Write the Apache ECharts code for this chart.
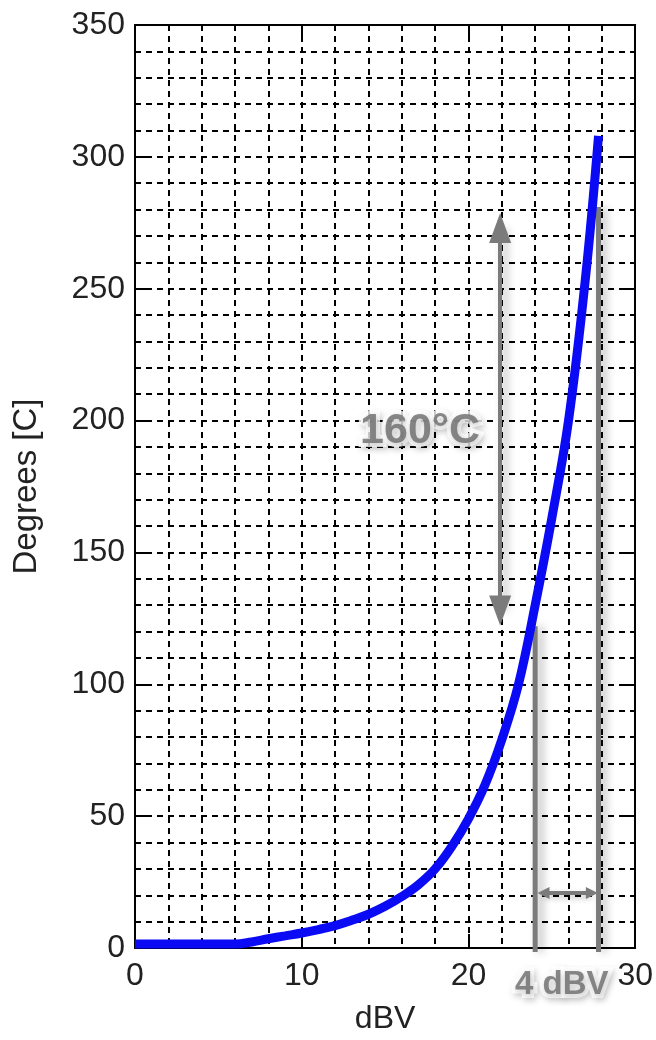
<!DOCTYPE html>
<html>
<head>
<meta charset="utf-8">
<script src="https://cdn.jsdelivr.net/npm/echarts@6/dist/echarts.min.js"></script>
<style>
html,body{margin:0;padding:0;background:#fff;}
#chart{width:656px;height:1040px;}
</style>
</head>
<body>
<div id="chart"></div>
<script>
// ---- data ----
const dbv = [0, 2, 4, 6, 7, 8, 9, 10, 11, 12, 13, 14, 15, 16, 17, 18, 19, 20, 21, 22, 23, 24, 25, 26, 27, 27.8];
const degrees = [1.5, 1.5, 1.5, 1.5, 2.3, 3.5, 4.6, 5.7, 7, 8.5, 10.5, 12.8, 15.8, 19.5, 24, 30, 38.5, 49, 62, 79, 100, 130, 163, 200, 253, 308];
const xTicks = [0, 10, 20, 30];
const yTicks = [0, 50, 100, 150, 200, 250, 300, 350];
// annotation values (data units)
const rightLineX = 27.8, rightLineTop = 281;
const leftLineX = 24.0, leftLineTop = 122;
const vArrowX = 21.9, vArrowTop = 273, vArrowBottom = 128;
const hArrowY = 20.9, hArrowLeft = 24.5, hArrowRight = 27.4;
const tempLabel = '160°C', tempLabelPos = [17.1, 196];
const dbvLabel = '4 dBV', dbvLabelPos = [25.6, -14];

const curve = dbv.map((x, i) => [x, degrees[i]]);
const gray = '#7b7b7b';
const font = '"Liberation Sans", Arial, sans-serif';

const chart = echarts.init(document.getElementById('chart'), null, {renderer: 'canvas'});
const baseX = {type: 'value', min: xTicks[0], max: xTicks[xTicks.length - 1], interval: 10};
const baseY = {type: 'value', min: yTicks[0], max: yTicks[yTicks.length - 1], interval: 50};
const axisLine = {show: true, onZero: false, lineStyle: {color: '#000', width: 2}};
const tick = {show: true, inside: true, length: 14, lineStyle: {color: '#000', width: 2}};
const gridDash = {show: true, lineStyle: {color: '#000', width: 2, type: [6, 5]}};

chart.setOption({
  animation: false,
  backgroundColor: '#fff',
  grid: {left: 135, right: 17, top: 25, bottom: 92, containLabel: false},
  xAxis: [
    Object.assign({}, baseX, {
      position: 'bottom', axisLine, axisTick: tick, splitLine: {show: false},
      axisLabel: {color: '#222', fontSize: 32, fontFamily: font, margin: 12},
      name: 'dBV', nameLocation: 'middle', nameGap: 55,
      nameTextStyle: {color: '#222', fontSize: 32, fontFamily: font}
    }),
    Object.assign({}, baseX, {
      position: 'top', axisLine, axisTick: tick, axisLabel: {show: false}, splitLine: {show: false}
    }),
    Object.assign({}, baseX, {
      position: 'bottom', interval: 2, axisLine: {show: false}, axisTick: {show: false},
      axisLabel: {show: false}, splitLine: gridDash
    })
  ],
  yAxis: [
    Object.assign({}, baseY, {
      position: 'left', axisLine, axisTick: tick, splitLine: {show: false},
      axisLabel: {color: '#222', fontSize: 32, fontFamily: font, margin: 10},
      name: 'Degrees [C]', nameLocation: 'middle', nameGap: 92, nameRotate: 90,
      nameTextStyle: {color: '#222', fontSize: 33, fontFamily: font}
    }),
    Object.assign({}, baseY, {
      position: 'right', axisLine, axisTick: tick, axisLabel: {show: false}, splitLine: {show: false}
    }),
    Object.assign({}, baseY, {
      position: 'left', interval: 10, axisLine: {show: false}, axisTick: {show: false},
      axisLabel: {show: false}, splitLine: gridDash
    })
  ],
  series: [
    {
      type: 'line', name: 'curve', data: curve, showSymbol: false, smooth: 0.4,
      lineStyle: {color: '#0a0af5', width: 9}, z: 5
    },
    {
      type: 'line', name: 'rightLine', data: [[rightLineX, rightLineTop], [rightLineX, -1.5]],
      showSymbol: false, clip: false,
      lineStyle: {color: gray, width: 5, shadowColor: 'rgba(0,0,0,0.3)', shadowBlur: 8, shadowOffsetX: 5}, z: 4
    },
    {
      type: 'line', name: 'leftLine', data: [[leftLineX, leftLineTop], [leftLineX, -1.5]],
      showSymbol: false, clip: false,
      lineStyle: {color: gray, width: 5, shadowColor: 'rgba(0,0,0,0.3)', shadowBlur: 8, shadowOffsetX: 5}, z: 4,
      markLine: {
        silent: true, symbol: ['triangle', 'triangle'], symbolSize: [22, 30],
        label: {show: false},
        lineStyle: {color: gray, width: 4, type: 'solid', shadowColor: 'rgba(0,0,0,0.3)', shadowBlur: 8, shadowOffsetX: 5},
        data: [[{coord: [vArrowX, vArrowTop]}, {coord: [vArrowX, vArrowBottom]}]]
      }
    },
    {
      type: 'line', name: 'hArrow', data: [], showSymbol: false,
      markLine: {
        silent: true, symbol: ['triangle', 'triangle'], symbolSize: [12, 12],
        label: {show: false},
        lineStyle: {color: gray, width: 4, type: 'solid', shadowColor: 'rgba(0,0,0,0.25)', shadowBlur: 6, shadowOffsetY: 3},
        data: [[{coord: [hArrowLeft, hArrowY]}, {coord: [hArrowRight, hArrowY]}]]
      }, z: 4
    },
    {
      type: 'scatter', name: 'labels', symbolSize: 0, clip: false, z: 10,
      data: [
        {value: tempLabelPos, label: {formatter: tempLabel, fontSize: 43}},
        {value: dbvLabelPos, label: {formatter: dbvLabel, fontSize: 33}}
      ],
      label: {
        show: true, position: 'inside', color: '#6b6b6b', fontWeight: 'bold', fontFamily: font,
        textBorderColor: '#fff', textBorderWidth: 8,
        textShadowColor: 'rgba(0,0,0,0.22)', textShadowBlur: 6, textShadowOffsetX: 2, textShadowOffsetY: 3
      }
    }
  ]
});
</script>
</body>
</html>
